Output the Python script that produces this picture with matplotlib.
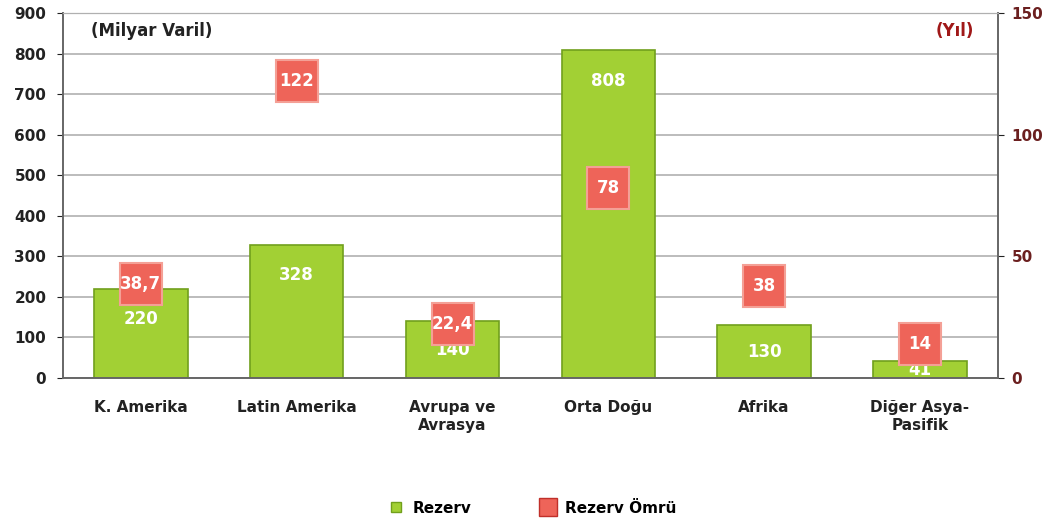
import matplotlib.pyplot as plt
from matplotlib.lines import Line2D

# data
regions = ['K. Amerika', 'Latin Amerika', 'Avrupa ve\nAvrasya', 'Orta Doğu', 'Afrika', 'Diğer Asya-\nPasifik']
rezerv = [220, 328, 140, 808, 130, 41]
rezerv_omru = [38.7, 122, 22.4, 78, 38, 14]
omru_labels = ['38,7', '122', '22,4', '78', '38', '14']

plt.rcParams['font.family'] = ['DejaVu Sans']

fig = plt.figure(figsize=(10.57, 5.24), dpi=100)
ax = fig.add_axes([0.0596, 0.2786, 0.8844, 0.6964])
ax2 = ax.twinx()

x = list(range(len(regions)))
ax.bar(x, rezerv, width=0.6, color='#a2d034', edgecolor='#71a01c', linewidth=1.2, zorder=2)
ax.set_ylim(0, 900)
ax.set_xlim(-0.5, len(regions) - 0.5)
ax.set_yticks(range(0, 901, 100))
ax.yaxis.grid(True, color='#b0b0b0', linewidth=1.2, zorder=0)
ax.set_axisbelow(True)
ax.set_xticks(x)
ax.set_xticklabels(regions, fontsize=11, fontweight='bold', color='#222222')
ax.tick_params(axis='x', length=0, pad=16)
ax.tick_params(axis='y', labelsize=11, colors='#222222', length=4, pad=8)
for lab in ax.get_yticklabels():
    lab.set_fontweight('bold')

# value labels inside the bars
for xi, v in zip(x, rezerv):
    ypos = max(v - 75, v / 2)
    ax.text(xi, ypos, str(v), ha='center', va='center', color='white',
            fontsize=12, fontweight='bold', zorder=5)

ax2.set_ylim(0, 150)
ax2.set_yticks([0, 50, 100, 150])
ax2.tick_params(axis='y', labelsize=11, colors='#222222', length=4, pad=6)
for lab in ax2.get_yticklabels():
    lab.set_fontweight('bold')
    lab.set_color('#6b1f1f')
ax2.plot(x, rezerv_omru, linestyle='none', marker='s', markersize=30,
         markerfacecolor='#ee6459', markeredgecolor='#f4a096', markeredgewidth=1.5, zorder=3)
for xi, v, t in zip(x, rezerv_omru, omru_labels):
    ax2.text(xi, v, t, ha='center', va='center', color='white',
             fontsize=12, fontweight='bold', zorder=6)

for a in (ax, ax2):
    for s in ('left', 'right', 'bottom'):
        a.spines[s].set_color('#666666')
        a.spines[s].set_linewidth(1.2)
    a.spines['top'].set_color('#b0b0b0')

ax.text(0.03, 0.975, '(Milyar Varil)', transform=ax.transAxes, ha='left', va='top',
        fontsize=12, fontweight='bold', color='#222222')
ax.text(0.975, 0.975, '(Yıl)', transform=ax.transAxes, ha='right', va='top',
        fontsize=12, fontweight='bold', color='#a01818')

handles = [Line2D([], [], linestyle='none', marker='s', markersize=7,
                  markerfacecolor='#a2d034', markeredgecolor='#71a01c'),
           Line2D([], [], linestyle='none', marker='s', markersize=13,
                  markerfacecolor='#ee6459', markeredgecolor='#c0302a')]
fig.legend(handles, ['Rezerv', 'Rezerv Ömrü'], loc='center', bbox_to_anchor=(0.5, 0.03),
           ncol=2, frameon=False, handletextpad=0.1, columnspacing=4,
           prop={'weight': 'bold', 'size': 11})

fig.savefig('out.png', dpi=100)
